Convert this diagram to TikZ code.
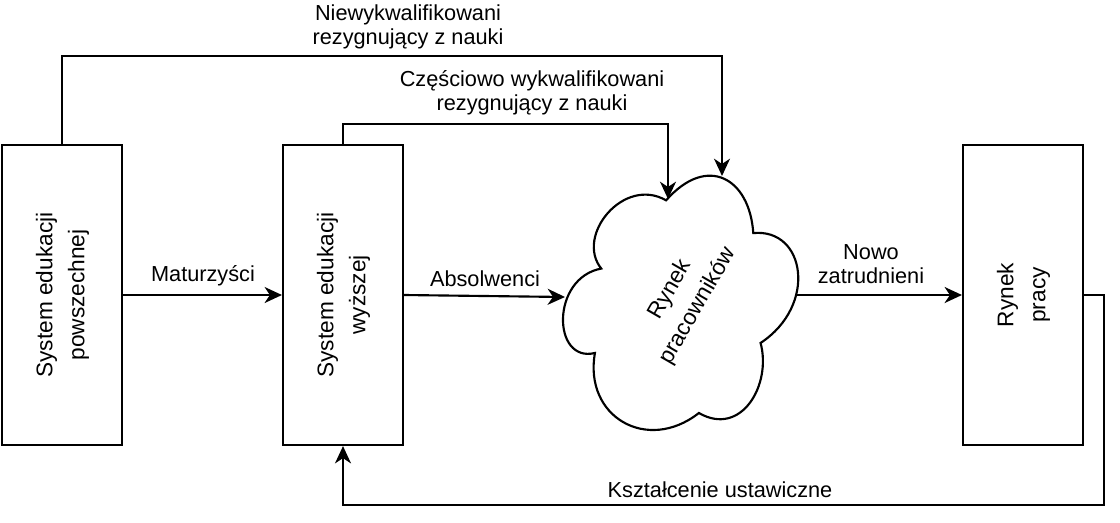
\documentclass[tikz,border=0pt]{standalone}
\usepackage{fontspec}
\setmainfont{Liberation Sans}
\usetikzlibrary{arrows.meta}

\newcommand{\pion}[1]{\rotatebox{90}{\begin{tabular}{@{}c@{}}#1\end{tabular}}}

\tikzset{every picture/.style={line width=1.6pt}}
\tikzset{
  blok/.style={draw, minimum width=90pt, minimum height=225pt, inner sep=0pt, font=\fontsize{17}{24}\selectfont},
  opis/.style={inner sep=0.75pt, align=center, font=\fontsize{16.3}{18.3}\selectfont},
  strz/.style={-{Stealth[length=13pt,width=12pt,inset=4pt]}},
}

\begin{document}
\begin{tikzpicture}[x=0.75pt,y=0.75pt,yscale=-1,xscale=1]
\useasboundingbox (0,0) rectangle (1120,522);

%Shape: Rectangle
\node [blok] (spow) at (62,295) {\pion{System edukacji\\powszechnej}};
%Shape: Rectangle
\node [blok] (swyz) at (343,295) {\pion{System edukacji\\wyższej}};
%Shape: Rectangle
\node [blok] (rpra) at (1023,295) {\pion{Rynek\\pracy}};

%Shape: Cloud
\begin{scope}[shift={(681,297)}, rotate=30]
\draw (-61.25,-76.25) .. controls (-110.25,-76.25) and (-122.5,0) .. (-83.3,15.25)
  .. controls (-122.5,48.8) and (-78.4,122) .. (-46.55,91.5)
  .. controls (-24.5,152.5) and (49,152.5) .. (73.5,91.5)
  .. controls (122.5,91.5) and (122.5,30.5) .. (91.88,0)
  .. controls (122.5,-61) and (73.5,-122) .. (30.63,-91.5)
  .. controls (0,-137.25) and (-49,-137.25) .. (-61.25,-76.25) -- cycle ;
\end{scope}
\node [inner sep=0pt, align=center, rotate=60, font=\fontsize{17}{24}\selectfont] (rprac) at (684,298) {Rynek\\pracowników};
\coordinate (rpL) at (565,297);
\coordinate (rpR) at (797,295);
\coordinate (rpT1) at (722,176);
\coordinate (rpT2) at (668,199);

%Straight Lines
\draw [strz] (spow.east) -- (swyz.west) ;
\draw [strz] (swyz.east) -- (rpL) ;
\draw [strz] (rpR) -- (rpra.west) ;
%Elbow Lines
\draw [strz] (spow.north) -- ++(0,-88) -| (rpT1) ;
\draw [strz] (swyz.north) -- ++(0,-20) -| (rpT2) ;
\draw [strz] (rpra.east) -- ++(20,0) -- ++(0,210) -| (swyz.south) ;

% Text Node
\node [opis] (tNiew) at (408,27) {Niewykwalifikowani\\rezygnujący z nauki};
% Text Node
\node [opis] (tCzes) at (532,93) {Częściowo wykwalifikowani\\rezygnujący z nauki};
% Text Node
\node [opis] (tMatu) at (203,276) {Maturzyści};
% Text Node
\node [opis] (tAbso) at (485,279) {Absolwenci};
% Text Node
\node [opis] (tNowo) at (871,264) {Nowo\\zatrudnieni};
% Text Node
\node [opis] (tKszt) at (720,490) {Kształcenie ustawiczne};

\end{tikzpicture}
\end{document}
